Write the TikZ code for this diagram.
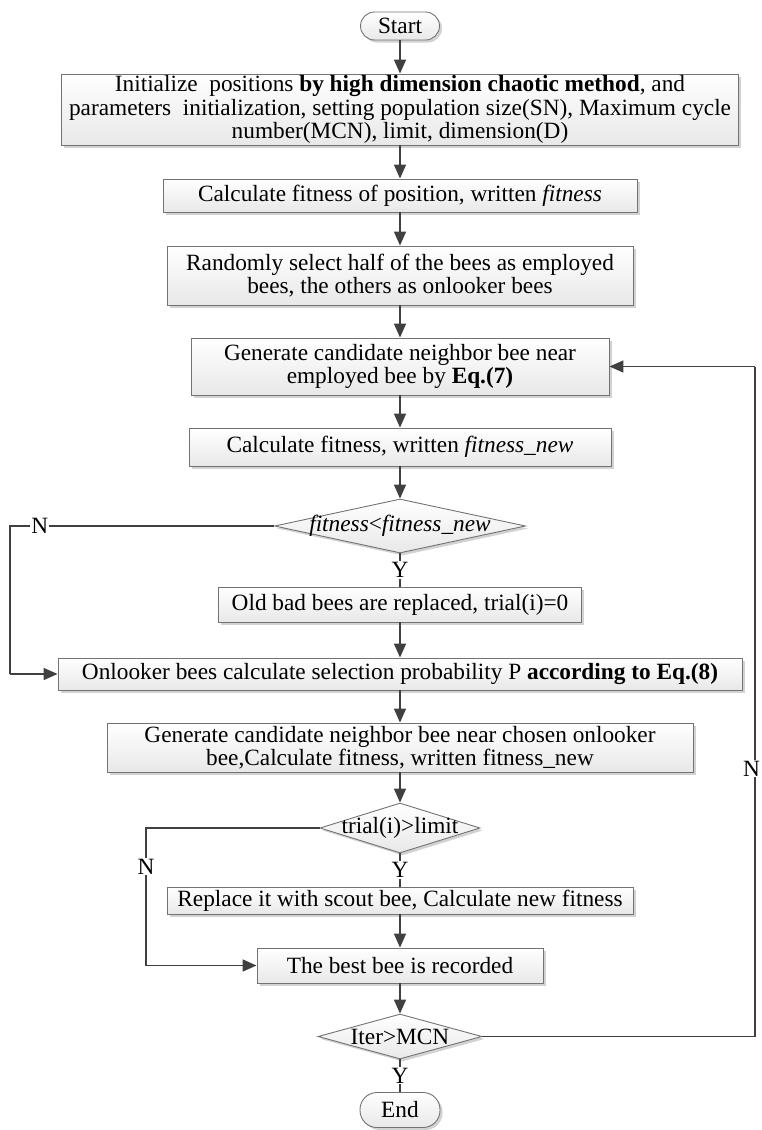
\documentclass[tikz,border=0pt]{standalone}
\usepackage{fontspec}
\setmainfont{Liberation Serif}
\usetikzlibrary{arrows.meta,shapes.geometric,shadows,positioning}
\tikzset{
  txt/.style={font=\fontsize{23.3}{23.4}\selectfont},
  shd/.style={drop shadow={shadow xshift=2.5pt,shadow yshift=-2.5pt,fill=black!35,opacity=.5}},
  prc/.style={txt,rectangle,draw=black!55,line width=.9pt,top color=white,bottom color=black!9,
    shd,align=center,inner sep=0pt},
  trm/.style={prc,rounded corners=14pt},
  dec/.style={diamond,draw=black!55,line width=.9pt,top color=white,bottom color=black!9,
    shd,inner sep=0pt,aspect=4},
  lbl/.style={txt,inner sep=0pt},
  yn/.style={txt,fill=white,inner sep=1pt},
  lnk/.style={draw=black!75,line width=1.7pt},
  arr/.style={lnk,-{Triangle[length=14pt,width=12pt]}},
}
\begin{document}
\begin{tikzpicture}[x=1pt,y=-1pt]
\useasboundingbox (0,0) rectangle (761,1130);
% ---- main column
\node[trm,minimum width=79pt,minimum height=28pt] (start) at (400,26) {Start};
\node[prc,minimum width=677pt,minimum height=71pt] (b1) at (400,109.5)
  {Initialize~ positions \textbf{by high dimension chaotic method}, and\\
   parameters~ initialization, setting population size(SN), Maximum cycle\\
   number(MCN), limit, dimension(D)};
\node[prc,minimum width=474pt,minimum height=33pt] (b2) at (400,195.5)
  {Calculate fitness of position, written \textit{fitness}};
\node[prc,minimum width=466pt,minimum height=59pt] (b3) at (400,275.5)
  {Randomly select half of the bees as employed\\ bees, the others as onlooker bees};
\node[prc,minimum width=418pt,minimum height=57pt] (b4) at (400,366.5)
  {Generate candidate neighbor bee near\\ employed bee by \textbf{Eq.(7)}};
\node[prc,minimum width=422pt,minimum height=38pt] (b5) at (400,447)
  {Calculate fitness, written \textit{fitness\_new}};
\node[dec,minimum width=251pt,minimum height=54pt] (d1) at (400,526) {};
\node[lbl] (t1) at (d1) {\textit{fitness}<\textit{fitness\_new}};
\node[prc,minimum width=363pt,minimum height=35pt] (b6) at (400,604.5)
  {Old bad bees are replaced, trial(i)=0};
\node[prc,minimum width=684pt,minimum height=32pt] (b7) at (400,674)
  {Onlooker bees calculate selection probability P \textbf{according to Eq.(8)}};
\node[prc,minimum width=586pt,minimum height=49pt] (b8) at (400,747.5)
  {Generate candidate neighbor bee near chosen onlooker\\ bee,Calculate fitness, written fitness\_new};
\node[dec,minimum width=160pt,minimum height=50pt] (d2) at (400,828) {};
\node[lbl] (t2) at (d2) {trial(i)>limit};
\node[prc,minimum width=466pt,minimum height=27pt] (b9) at (400,900.5)
  {Replace it with scout bee, Calculate new fitness};
\node[prc,minimum width=286pt,minimum height=35pt] (b10) at (400,965.5)
  {The best bee is recorded};
\node[dec,minimum width=164pt,minimum height=45pt] (d3) at (400,1036.5) {};
\node[lbl] (t3) at (d3) {Iter>MCN};
\node[trm,minimum width=80pt,minimum height=35pt,rounded corners=17pt] (end) at (400,1110) {End};
% ---- side rails
\coordinate (lft) at (10,0);
\coordinate (lft2) at (146,0);
\coordinate (rgt) at (755,0);
% ---- connectors
\draw[arr] (start) -- (b1);
\draw[arr] (b1) -- (b2);
\draw[arr] (b2) -- (b3);
\draw[arr] (b3) -- (b4);
\draw[arr] (b4) -- (b5);
\draw[arr] (b5) -- (d1);
\draw[lnk] (d1) -- node[yn]{Y} (b6);
\draw[arr] (b6) -- (b7);
\draw[arr] (b7) -- (b8);
\draw[arr] (b8) -- (d2);
\draw[lnk] (d2) -- node[yn]{Y} (b9);
\draw[arr] (b9) -- (b10);
\draw[arr] (b10) -- (d3);
\draw[lnk] (d3) -- node[yn]{Y} (end);
\draw[lnk] (d1.west) -- node[yn,pos=.887]{N} (d1.west -| lft) -- (b7.west -| lft);
\draw[arr] (b7.west -| lft) -- (b7.west);
\draw[lnk] (d2.west) -- (d2.west -| lft2) -- node[yn,pos=.28]{N} (b10.west -| lft2);
\draw[arr] (b10.west -| lft2) -- (b10.west);
\draw[lnk] (d3.east) -- (d3.east -| rgt) -- node[yn,pos=.4,xshift=-3.5pt]{N} (b4.east -| rgt);
\draw[arr] (b4.east -| rgt) -- (b4.east);
\end{tikzpicture}
\end{document}
